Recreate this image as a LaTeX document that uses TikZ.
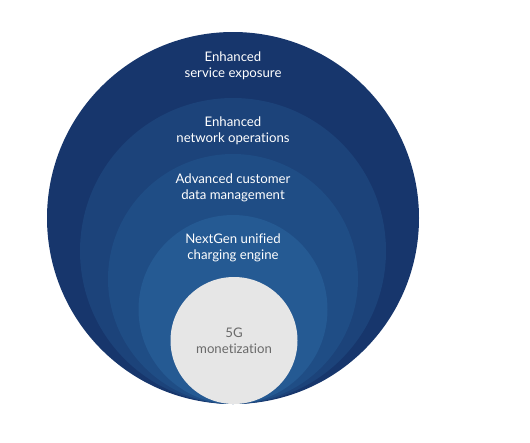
\documentclass[tikz,border=0pt]{standalone}
\usepackage{fontspec}
\setmainfont{Lato}[Ligatures={NoCommon}]
\definecolor{c1}{HTML}{17366C}
\definecolor{c2}{HTML}{1C437A}
\definecolor{c3}{HTML}{1F4D85}
\definecolor{c4}{HTML}{255A93}
\definecolor{cg}{HTML}{E6E6E6}
\definecolor{tg}{HTML}{6A6A6A}
\begin{document}
\begin{tikzpicture}[x=1pt,y=-1pt,
  ring/.style={circle,inner sep=0pt,minimum size=#1},
  lbl/.style={align=center,font=\fontsize{13.2}{16}\selectfont,text=white}]
\useasboundingbox (0,0) rectangle (530,442);
\node[ring=372pt,fill=c1] (r1) at (233,218) {};
\node[ring=306pt,fill=c2] (r2) at (233,251) {};
\node[ring=250pt,fill=c3] (r3) at (233,279) {};
\node[ring=189pt,fill=c4] (r4) at (233,309.5) {};
\node[ring=127pt,fill=cg] (r5) at (234,340.5) {};
\node[lbl] (t1) at (233,66) {Enhanced\\service exposure};
\node[lbl] (t2) at (233,131) {Enhanced\\network operations};
\node[lbl] (t3) at (233,188) {Advanced customer\\data management};
\node[lbl] (t4) at (233,248) {NextGen unified\\charging engine};
\node[lbl,text=tg] (t5) at (234,341) {5G\\monetization};
\end{tikzpicture}
\end{document}
